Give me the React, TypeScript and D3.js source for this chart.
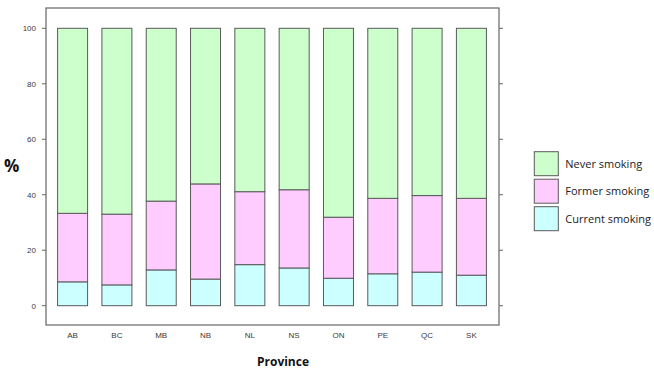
import React from "react";
import * as d3 from "d3";

const provinces = ["AB", "BC", "MB", "NB", "NL", "NS", "ON", "PE", "QC", "SK"];
const current = [8.6, 7.5, 12.9, 9.6, 14.8, 13.6, 9.9, 11.5, 12.1, 11.0];
const former = [24.7, 25.5, 24.8, 34.3, 26.3, 28.2, 22.0, 27.2, 27.6, 27.7];
const never = provinces.map((_, i) => 100 - current[i] - former[i]);
const seriesNames = ["Current smoking", "Former smoking", "Never smoking"];
const seriesColors = ["#ccffff", "#ffccff", "#ccffcc"];
const yTicks = [0, 20, 40, 60, 80, 100];

export default function App() {
  const W = 654, H = 376;
  const frame = { left: 46, right: 499, top: 8, bottom: 325 };
  const y = d3.scaleLinear().domain([0, 100]).range([305.7, 28.3]);
  const x = d3.scaleBand().domain(provinces).range([50.5, 493.5]).paddingInner(0.323).paddingOuter(0.16);

  const rows = provinces.map((p, i) => ({ p, current: current[i], former: former[i], never: never[i] }));
  const stack = d3.stack<any>().keys(["current", "former", "never"])(rows);

  const stroke = "#5a5a5a";
  const legendItems = [
    { name: seriesNames[2], color: seriesColors[2] },
    { name: seriesNames[1], color: seriesColors[1] },
    { name: seriesNames[0], color: seriesColors[0] },
  ];

  return (
    <svg width={W} height={H} style={{ position: "absolute", left: 0, top: 0 }}>
      <rect x={0} y={0} width={W} height={H} fill="#fff" />
      {stack.map((s, si) =>
        s.map((d, i) => (
          <rect
            key={`${si}-${i}`}
            x={x(provinces[i])}
            y={y(d[1])}
            width={x.bandwidth()}
            height={y(d[0]) - y(d[1])}
            fill={seriesColors[si]}
            stroke={stroke}
            strokeWidth={1}
          />
        ))
      )}
      <rect
        x={frame.left}
        y={frame.top}
        width={frame.right - frame.left}
        height={frame.bottom - frame.top}
        fill="none"
        stroke="#666"
        strokeWidth={1.2}
      />
      {yTicks.map((t) => (
        <g key={t}>
          <line x1={frame.left - 4} x2={frame.left} y1={y(t)} y2={y(t)} stroke="#666" strokeWidth={1} />
          <line x1={frame.right} x2={frame.right + 4} y1={y(t)} y2={y(t)} stroke="#666" strokeWidth={1} />
          <text
            x={36}
            y={y(t)}
            dy="0.35em"
            textAnchor="end"
            fontFamily="Liberation Sans, Arial, sans-serif"
            fontSize={8}
            fill="#3a3a3a"
          >
            {t}
          </text>
        </g>
      ))}
      {provinces.map((p) => (
        <text
          key={p}
          x={(x(p) as number) + x.bandwidth() / 2}
          y={335}
          dy="0.35em"
          textAnchor="middle"
          fontFamily="Liberation Sans, Arial, sans-serif"
          fontSize={8}
          fill="#3a3a3a"
        >
          {p}
        </text>
      ))}
      <text x={4} y={172} fontFamily="Open Sans, sans-serif" fontWeight="bold" fontSize={17} fill="#111">
        %
      </text>
      <text x={283} y={366} textAnchor="middle" fontFamily="Open Sans, sans-serif" fontWeight="bold" fontSize={12} fill="#111">
        Province
      </text>
      {legendItems.map((it, i) => (
        <g key={it.name} transform={`translate(534.3, ${151.7 + i * 27.5})`}>
          <rect x={0} y={0} width={24} height={24} fill={it.color} stroke={stroke} strokeWidth={1} />
          <text x={31} y={12} dy="0.35em" fontFamily="Open Sans, sans-serif" fontSize={11} fill="#222">
            {it.name}
          </text>
        </g>
      ))}
    </svg>
  );
}
